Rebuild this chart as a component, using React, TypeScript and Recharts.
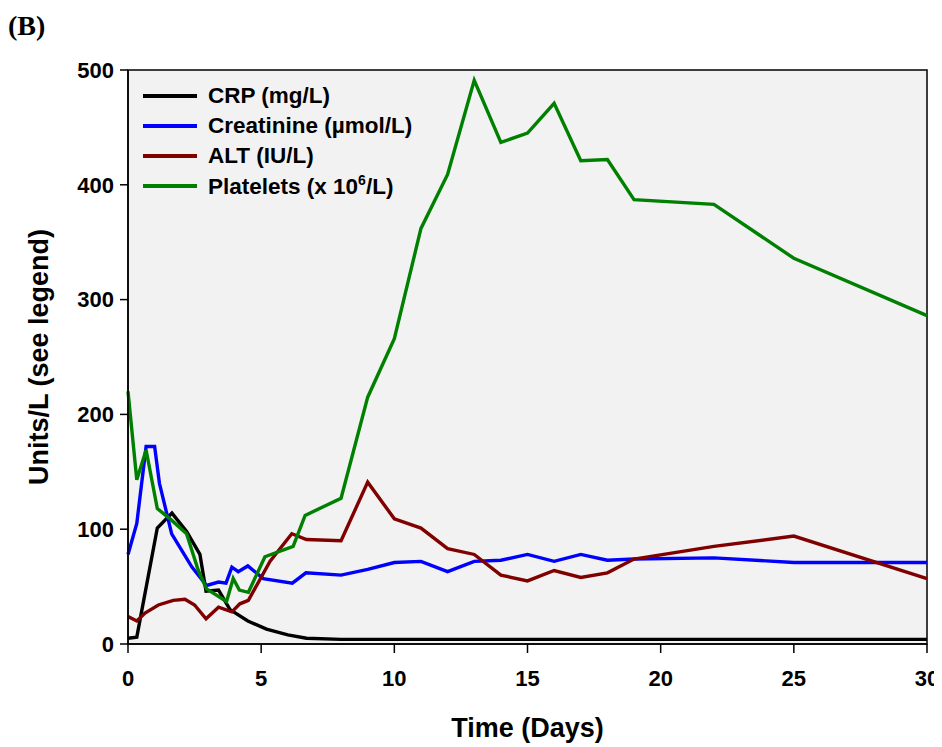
import React from "react";
import {
  LineChart,
  Line,
  XAxis,
  YAxis,
  CartesianGrid,
  Label,
  ReferenceArea,
} from "recharts";

// values (days since admission)
const crpDays = [0, 0.33, 1.1, 1.65, 2.2, 2.7, 2.93, 3.4, 3.83, 4.5, 5.2, 6, 6.7, 8, 10, 15, 20, 25, 30];
const crpVals = [5, 6, 101, 114, 98, 78, 46, 47, 30, 20, 13, 8, 5, 4, 4, 4, 4, 4, 4];

const creatDays = [0, 0.33, 0.68, 1.0, 1.18, 1.64, 2.4, 2.95, 3.4, 3.68, 3.9, 4.14, 4.5, 5.08, 6.17, 6.68, 8, 9, 10, 11, 12, 13, 14, 15, 16, 17, 18, 19, 22, 25, 30];
const creatVals = [78, 105, 172, 172, 140, 96, 67, 51, 54, 53, 67, 63, 68, 57, 53, 62, 60, 65, 71, 72, 63, 72, 73, 78, 72, 78, 73, 74, 75, 71, 71];

const altDays = [0, 0.33, 0.64, 1.14, 1.7, 2.14, 2.5, 2.93, 3.4, 3.9, 4.2, 4.52, 5.33, 6.15, 6.7, 8, 9, 10, 11, 12, 13, 14, 15, 16, 17, 18, 19, 22, 25, 30];
const altVals = [24, 20, 27, 34, 38, 39, 34, 22, 32, 28, 35, 38, 72, 96, 91, 90, 141, 109, 101, 83, 78, 60, 55, 64, 58, 62, 74, 85, 94, 57];

const pltDays = [0, 0.33, 0.68, 1.1, 1.58, 2.2, 2.64, 2.95, 3.7, 3.95, 4.18, 4.52, 5.14, 6.2, 6.65, 8, 9, 10, 11, 12, 13, 14, 15, 16, 17, 18, 19, 22, 25, 30];
const pltVals = [220, 143, 169, 118, 109, 96, 64, 48, 37, 57, 47, 45, 76, 85, 112, 127, 215, 266, 362, 409, 491, 437, 445, 471, 421, 422, 387, 383, 336, 286];

const xTicks = [0, 5, 10, 15, 20, 25, 30];
const yTicks = [0, 100, 200, 300, 400, 500];

const zip = (days: number[], vals: number[]) =>
  days.map((d, i) => ({ day: d, v: vals[i] }));

const series = [
  { name: "CRP (mg/L)", color: "#000000", data: zip(crpDays, crpVals) },
  { name: "Creatinine (\u00b5mol/L)", color: "#0000ff", data: zip(creatDays, creatVals) },
  { name: "ALT (IU/L)", color: "#800000", data: zip(altDays, altVals) },
  { name: "Platelets", color: "#008000", data: zip(pltDays, pltVals) },
];

const font = "'Liberation Sans', Arial, sans-serif";
const tickStyle = { fontFamily: font, fontWeight: 700, fontSize: 22, fill: "#000" };
const titleStyle = { fontFamily: font, fontWeight: 700, fontSize: 27, fill: "#000" };

function LegendBox() {
  return (
    <div
      style={{
        position: "absolute",
        left: 135,
        top: 73,
        fontFamily: font,
        fontWeight: 700,
        fontSize: 22.5,
        color: "#000",
      }}
    >
      {series.map((s) => (
        <div key={s.name} style={{ display: "flex", alignItems: "center", height: 30, whiteSpace: "nowrap" }}>
          <div style={{ width: 54, height: 4, background: s.color, marginRight: 11 }} />
          <span>
            {s.name === "Platelets" ? (
              <>
                Platelets (x 10<sup style={{ fontSize: 14 }}>6</sup>/L)
              </>
            ) : (
              s.name
            )}
          </span>
        </div>
      ))}
    </div>
  );
}

export default function App() {
  return (
    <div style={{ position: "relative", width: 934, height: 739 }}>
      {/* no scrollbars, and let the last x tick label spill past the svg edge */}
      <style>{`html, body { overflow: hidden; } .recharts-surface { overflow: visible; }`}</style>
      <div
        style={{
          position: "absolute",
          left: 0,
          top: 2,
          fontFamily: "'Liberation Serif', 'Times New Roman', serif",
          fontWeight: 700,
          fontSize: 28,
        }}
      >
        (B)
      </div>
      <LineChart
        width={934}
        height={739}
        margin={{ top: 62, right: 15, left: 0, bottom: 0 }}
      >
        <CartesianGrid fill="#f2f2f2" horizontal={false} vertical={false} />
        <XAxis
          type="number"
          dataKey="day"
          domain={[0, 30]}
          ticks={xTicks}
          height={103}
          tickSize={9}
          tickMargin={17}
          stroke="#000"
          strokeWidth={1.5}
          tick={tickStyle}
        >
          <Label value="Time (Days)" position="insideBottom" offset={10} style={titleStyle} />
        </XAxis>
        <YAxis
          type="number"
          domain={[0, 500]}
          ticks={yTicks}
          width={120}
          tickSize={8}
          tickMargin={6}
          stroke="#000"
          strokeWidth={1.5}
          tick={tickStyle}
        >
          <Label
            value="Units/L (see legend)"
            angle={-90}
            position="insideLeft"
            offset={30}
            style={{ ...titleStyle, textAnchor: "middle" }}
          />
        </YAxis>
        <ReferenceArea x1={0} x2={30} y1={0} y2={500} fill="none" stroke="#000" strokeWidth={1.5} />
        {series.map((s) => (
          <Line
            key={s.name}
            data={s.data}
            dataKey="v"
            name={s.name}
            type="linear"
            stroke={s.color}
            strokeWidth={3.4}
            dot={false}
            isAnimationActive={false}
          />
        ))}
      </LineChart>
      <LegendBox />
    </div>
  );
}
